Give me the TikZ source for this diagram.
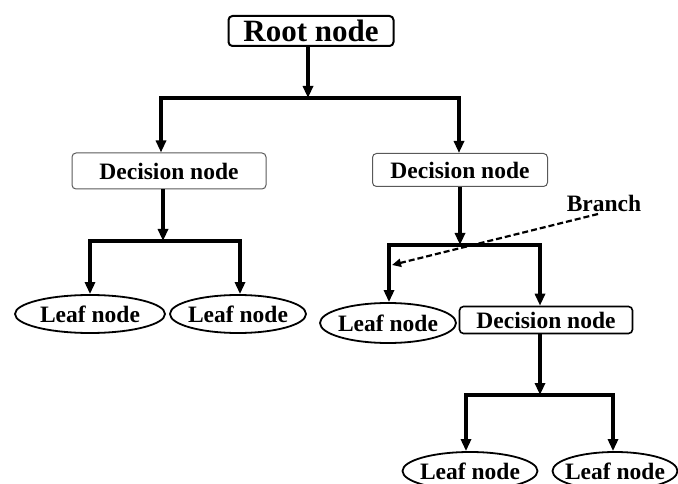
\documentclass[tikz,border=0pt]{standalone}
\usepackage{fontspec}
\setmainfont{Liberation Serif}
\usetikzlibrary{arrows.meta,shapes.geometric}
\begin{document}
\begin{tikzpicture}[x=1pt,y=1pt,
  txt/.style={font=\fontsize{23.5}{26}\selectfont\bfseries, inner sep=0pt},
  rootbox/.style={draw=black, line width=2pt, rounded corners=4pt, minimum width=165pt, minimum height=30pt, inner sep=0pt, font=\fontsize{31}{33}\selectfont\bfseries},
  decbox/.style={txt, draw=black!65, line width=1pt, rounded corners=4pt},
  decbox2/.style={txt, draw=black, line width=1.6pt, rounded corners=4pt},
  leaf/.style={txt, ellipse, draw=black, line width=1.8pt, inner xsep=-16pt, inner ysep=-4pt},
  bar/.style={line width=3.6pt, line cap=rect},
  arr/.style={line width=3.6pt, -{Triangle[length=12pt,width=10pt]}},
  darr/.style={line width=2.2pt, dashed, dash pattern=on 6pt off 3pt, -{Triangle[length=9pt,width=8pt]}}
]
\useasboundingbox (0,0) rectangle (678,-484);
% nodes
\node[rootbox] (root) at (311,-31) {Root node};
\node[decbox, minimum width=194pt, minimum height=36pt] (dl) at (169,-171) {Decision node};
\node[decbox, minimum width=175pt, minimum height=33pt] (dr) at (460,-170) {Decision node};
\node[leaf, minimum width=150pt, minimum height=38pt] (l1) at (90,-314) {Leaf node};
\node[leaf, minimum width=136pt, minimum height=38pt] (l2) at (238,-314) {Leaf node};
\node[leaf, minimum width=136pt, minimum height=40pt] (l3) at (388,-323) {Leaf node};
\node[decbox2, minimum width=173pt, minimum height=27pt] (dr2) at (546,-320) {Decision node};
\node[leaf, minimum width=135pt, minimum height=38pt] (l4) at (470,-471) {Leaf node};
\node[leaf, minimum width=125pt, minimum height=38pt] (l5) at (615,-471) {Leaf node};
\node[txt] (br) at (604,-203) {Branch};
% level 1
\coordinate (s1) at (308,-98);
\coordinate (b1l) at (161,-98);
\coordinate (b1r) at (459,-98);
\draw[arr] (root.south -| s1) -- (s1);
\draw[bar] (b1l) -- (b1r);
\draw[arr] (b1l) -- (b1l |- dl.north);
\draw[arr] (b1r) -- (b1r |- dr.north);
% level 2 left
\coordinate (s2) at (163,-241);
\coordinate (b2l) at (90,-241);
\coordinate (b2r) at (240,-241);
\draw[arr] (dl.south -| s2) -- (s2);
\draw[bar] (b2l) -- (b2r);
\draw[arr] (b2l) -- (b2l |- l1.north);
\draw[arr] (b2r) -- (b2r |- l2.north);
% level 2 right
\coordinate (s3) at (460,-245);
\coordinate (b3l) at (389,-245);
\coordinate (b3r) at (540,-245);
\draw[arr] (dr.south -| s3) -- (s3);
\draw[bar] (b3l) -- (b3r);
\draw[arr] (b3l) -- (b3l |- l3.north);
\draw[arr] (b3r) -- (b3r |- dr2.north);
% level 3
\coordinate (s4) at (540,-395);
\coordinate (b4l) at (466,-395);
\coordinate (b4r) at (613,-395);
\draw[arr] (dr2.south -| s4) -- (s4);
\draw[bar] (b4l) -- (b4r);
\draw[arr] (b4l) -- (b4l |- l4.north);
\draw[arr] (b4r) -- (b4r |- l5.north);
% branch pointer
\coordinate (bt) at (392,-265);
\draw[darr] (598,-214) -- (bt);
\end{tikzpicture}
\end{document}
